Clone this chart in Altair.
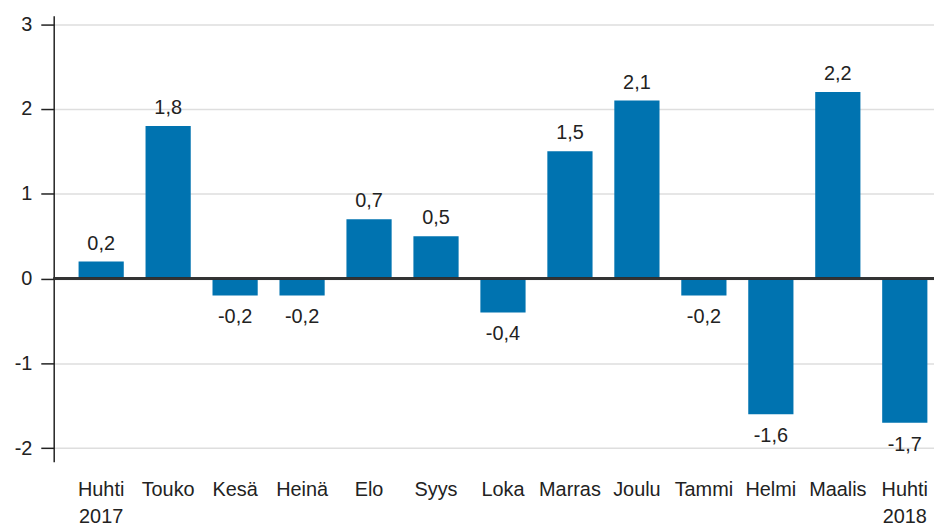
import altair as alt
import pandas as pd

months = ["Huhti 2017", "Touko", "Kesä", "Heinä", "Elo", "Syys", "Loka",
          "Marras", "Joulu", "Tammi", "Helmi", "Maalis", "Huhti 2018"]
values = [0.2, 1.8, -0.2, -0.2, 0.7, 0.5, -0.4, 1.5, 2.1, -0.2, -1.6, 2.2, -1.7]
y_ticks = [-2, -1, 0, 1, 2, 3]

df = pd.DataFrame({"month": months, "value": values})
df["label"] = [f"{v:.1f}".replace(".", ",") for v in values]

FONT = "Liberation Sans"
FS = 20
TXT = "#222222"
BAR = "#0073b0"

x = alt.X(
    "month:N", sort=months,
    scale=alt.Scale(paddingInner=0.325, paddingOuter=0.235, align=0.79,
                    round=False),
    axis=alt.Axis(title=None, labelAngle=0, domain=False, ticks=False,
                  labelPadding=18, labelExpr="split(datum.label, ' ')",
                  labelLineHeight=27, labelFont=FONT, labelFontSize=FS,
                  labelColor=TXT, grid=False),
)
y = alt.Y(
    "value:Q",
    scale=alt.Scale(domain=[-2.16, 3.1], nice=False, zero=False),
    axis=alt.Axis(title=None, values=y_ticks, labelExpr="toString(datum.value)",
                  tickSize=13, tickWidth=1.5, tickColor="#222222",
                  domainColor="#222222", domainWidth=1.5, labelPadding=9,
                  labelFont=FONT, labelFontSize=FS, labelColor=TXT, grid=True,
                  gridColor="#dedede", gridWidth=1.5),
)

base = alt.Chart(df)

bars = base.mark_bar(color=BAR).encode(x=x, y=y, y2=alt.datum(0))

zero = alt.Chart(df).mark_rule(color="#333333", strokeWidth=1.5).encode(
    y=alt.datum(0)
)

pos = base.transform_filter("datum.value >= 0").mark_text(
    font=FONT, fontSize=FS, color=TXT, baseline="alphabetic", dy=-12
).encode(x=alt.X("month:N", sort=months), y="value:Q", text="label:N")

neg = base.transform_filter("datum.value < 0").mark_text(
    font=FONT, fontSize=FS, color=TXT, baseline="top", dy=12
).encode(x=alt.X("month:N", sort=months), y="value:Q", text="label:N")

chart = alt.layer(bars, zero, pos, neg).properties(
    width=886, height=449,
    autosize=alt.AutoSizeParams(type="none"),
    padding={"left": 46, "top": 6, "right": 0, "bottom": 66},
).configure_view(stroke=None)

chart.save("out.html", embed_options={"renderer": "svg", "actions": False})
